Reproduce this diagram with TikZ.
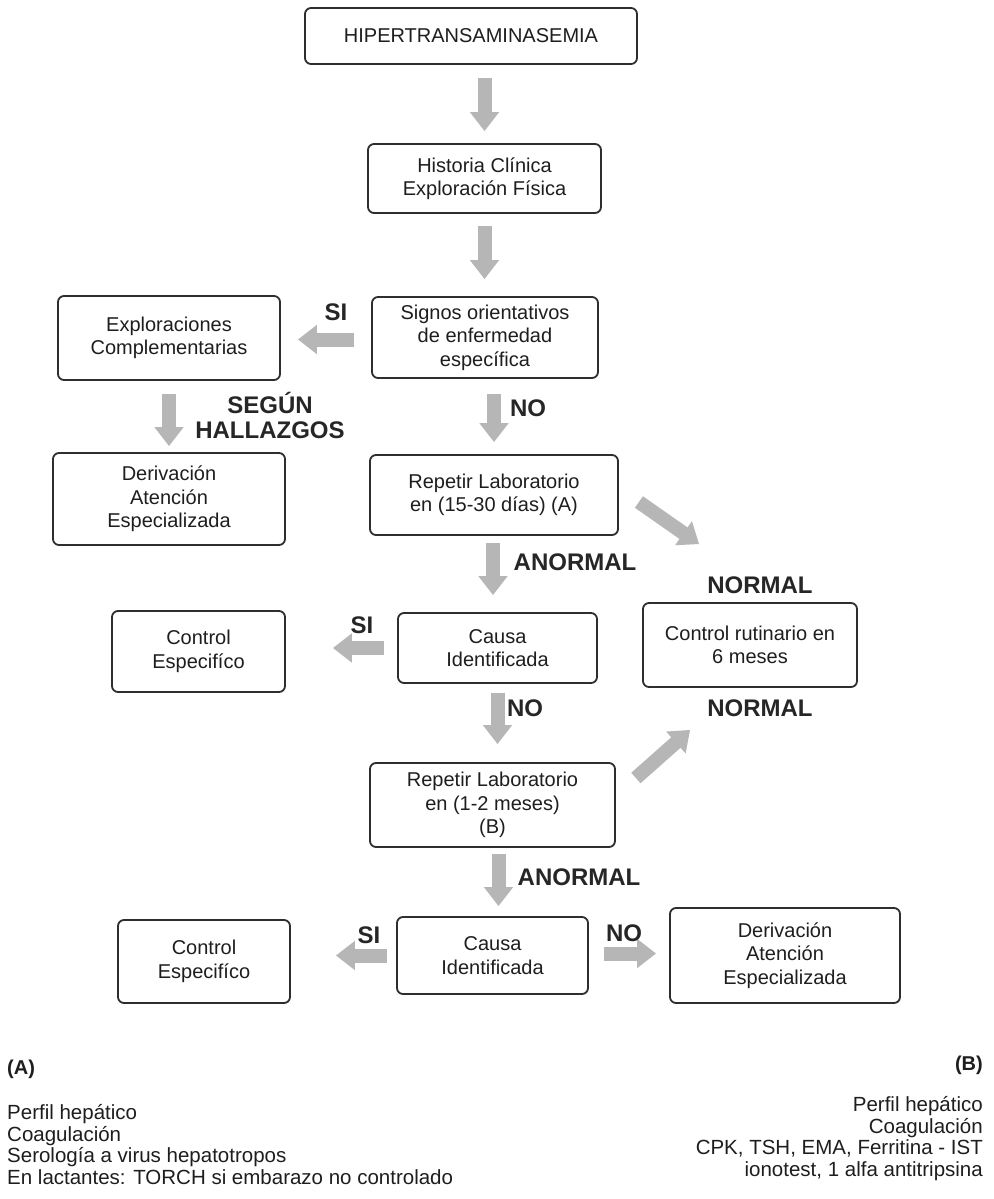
\documentclass[tikz,border=0pt]{standalone}
\usepackage{fontspec}
\setmainfont{Liberation Sans}
\usetikzlibrary{arrows.meta,calc}
\definecolor{boxline}{HTML}{2E2E2E}
\definecolor{txt}{HTML}{1E1E1E}
\definecolor{arr}{HTML}{B6B6B6}
\begin{document}
\begin{tikzpicture}[x=1pt,y=-1pt,
 box/.style={draw=boxline, line width=1.8pt, rounded corners=6pt, align=center, inner sep=0pt, text=txt, font=\fontsize{20}{23.5}\selectfont},
 lbl/.style={font=\bfseries\fontsize{24}{25}\selectfont, text=black!85, inner sep=0pt, align=center},
 blk/.style={draw=arr, line width=14pt, -{Triangle[width=28pt,length=19pt]}},
 note/.style={font=\fontsize{20.5}{21.7}\selectfont, text=txt, inner sep=0pt}]
\useasboundingbox (0,0) rectangle (993,1199);
\fill[white] (0,0) rectangle (993,1199);
% boxes
\node[box, minimum width=332pt, minimum height=56pt] (top) at (471,36) {HIPERTRANSAMINASEMIA};
\node[box, minimum width=233pt, minimum height=69pt] (hist) at (484.5,178.5) {Historia Clínica\\Exploración Física};
\node[box, minimum width=226pt, minimum height=81pt] (signos) at (485,337.5) {Signos orientativos\\de enfermedad\\específica};
\node[box, minimum width=222pt, minimum height=84pt] (explo) at (169,338) {Exploraciones\\Complementarias};
\node[box, minimum width=232pt, minimum height=92pt] (deriv1) at (169,499) {Derivación\\Atención\\Especializada};
\node[box, minimum width=248pt, minimum height=80pt] (repA) at (494,495) {Repetir Laboratorio\\en (15-30 días) (A)};
\node[box, minimum width=214pt, minimum height=84pt] (rutin) at (750,645) {Control rutinario en\\6 meses};
\node[box, minimum width=199pt, minimum height=70pt] (causa1) at (497.5,648) {Causa\\Identificada};
\node[box, minimum width=173pt, minimum height=81pt] (ctrl1) at (198.5,651.5) {Control\\Especifíco};
\node[box, minimum width=245pt, minimum height=84pt] (repB) at (492.5,805) {Repetir Laboratorio\\en (1-2 meses)\\(B)};
\node[box, minimum width=172pt, minimum height=83pt] (ctrl2) at (204,961.5) {Control\\Especifíco};
\node[box, minimum width=191pt, minimum height=77pt] (causa2) at (492.5,955.5) {Causa\\Identificada};
\node[box, minimum width=230pt, minimum height=95pt] (deriv2) at (785,955.5) {Derivación\\Atención\\Especializada};
% arrows
\draw[blk, shorten <=13pt, shorten >=12pt] (hist.north |- top.south) -- (hist.north);
\draw[blk, shorten <=12pt, shorten >=17pt] (hist.south) -- (hist.south |- signos.north);
\draw[blk, shorten <=17pt, shorten >=17pt] ([yshift=-2pt]signos.west) -- ([yshift=-2pt]signos.west -| explo.east);
\draw[blk, shorten <=13pt, shorten >=6pt] (explo.south) -- (deriv1.north);
\draw[blk, shorten <=15pt, shorten >=12pt] (signos.south -| repA.north) -- (repA.north);
\draw[blk] ($(repA.east)+(20,7)$) -- ($(rutin.north west)+(57,-58)$);
\draw[blk, shorten <=7pt, shorten >=17pt] ([xshift=-1pt]repA.south) -- ([xshift=-1pt]repA.south |- causa1.north);
\draw[blk, shorten <=13pt, shorten >=47pt] (causa1.west) -- (causa1.west -| ctrl1.east);
\draw[blk, shorten <=9pt, shorten >=18pt] (causa1.south) -- (causa1.south |- repB.north);
\draw[blk] ($(repB.east)+(20,-27)$) -- ($(rutin.south west)+(48,42)$);
\draw[blk, shorten <=6pt, shorten >=10pt] ([xshift=6pt]repB.south) -- ([xshift=6pt]causa2.north);
\draw[blk, shorten <=9pt, shorten >=45pt] (causa2.west) -- (causa2.west -| ctrl2.east);
\draw[blk, shorten <=15pt, shorten >=13pt] ([yshift=2pt]causa2.east) -- ([yshift=2pt]deriv2.west);
% labels
\node[lbl] (si1) at (336,312) {SI};
\node[lbl] (segun) at (270,415.5) {SEGÚN\\HALLAZGOS};
\node[lbl] (no1) at (528,408) {NO};
\node[lbl] (an1) at (575,562) {ANORMAL};
\node[lbl] (nor1) at (760,585) {NORMAL};
\node[lbl] (nor2) at (760,708) {NORMAL};
\node[lbl] (si2) at (362,625) {SI};
\node[lbl] (no2) at (525,708) {NO};
\node[lbl] (an2) at (579,877) {ANORMAL};
\node[lbl] (si3) at (369,935) {SI};
\node[lbl] (no3) at (624,933) {NO};
% notes
\node[note, font=\bfseries\fontsize{20}{22}\selectfont, anchor=west] (notA) at (7,1069) {(A)};
\node[note, font=\bfseries\fontsize{20}{22}\selectfont, anchor=east] (notB) at (983,1065) {(B)};
\node[note, anchor=north west, align=left] (listA) at (7,1104) {Perfil hepático\\Coagulación\\Serología a virus hepatotropos\\En lactantes: TORCH si embarazo no controlado};
\node[note, anchor=north east, align=right] (listB) at (983,1096) {Perfil hepático\\Coagulación\\CPK, TSH, EMA, Ferritina - IST\\ionotest, 1 alfa antitripsina};
\end{tikzpicture}
\end{document}
